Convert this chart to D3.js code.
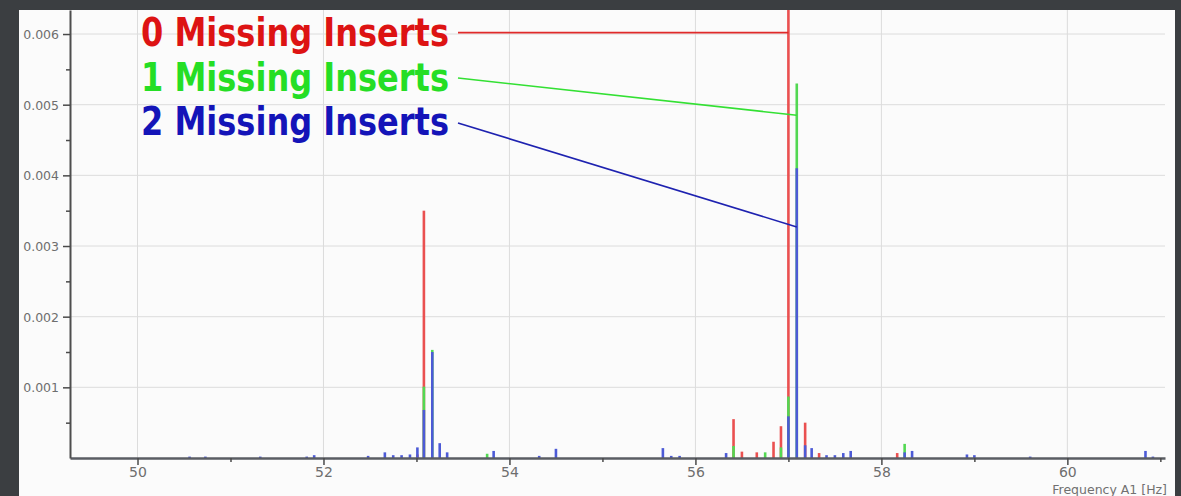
<!DOCTYPE html>
<html>
<head>
<meta charset="utf-8">
<script src="https://cdn.jsdelivr.net/npm/d3@7"></script>
<style>
  html, body { margin: 0; padding: 0; background: #3b3e41; }
  .spectrum__panel { fill: #fbfbfb; }
  .spectrum__grid line { stroke: #dcdcdc; stroke-width: 1; }
  .spectrum__axis path { stroke: #5a5d63; stroke-width: 2.5; }
  .spectrum__axis line { stroke: #4a4a4a; stroke-width: 1.5; }
  .spectrum__axis text { fill: #6e6e6e; font-family: "DejaVu Sans", sans-serif; }
  .spectrum__axis--y path { stroke: #4e4e4e; stroke-width: 2; }
  .spectrum__title { fill: #707070; font-family: "DejaVu Sans", sans-serif; font-size: 12.5px; }
  .spectrum__label { font-family: "Liberation Sans Narrow", "Arial Narrow", "DejaVu Sans Condensed", sans-serif; font-weight: bold; font-size: 39px; }
</style>
</head>
<body>
<div id="chart"></div>
<script>
// values
const freqTicks = [50, 52, 54, 56, 58, 60];
const freqMinorTicks = [51, 53, 55, 57, 59, 61];
const ampTicks = [0.001, 0.002, 0.003, 0.004, 0.005, 0.006];
const ampMinorTicks = [0.0005, 0.0015, 0.0025, 0.0035, 0.0045, 0.0055];

const seriesNames = ['0 Missing Inserts', '1 Missing Inserts', '2 Missing Inserts'];
const seriesColors = ['#ea5050', '#52d852', '#4c5ad6'];
const calloutColors = ['#e02a2a', '#33e033', '#1e22b0'];
const labelColors = ['#dd1313', '#25de25', '#1414b8'];

// 0 missing inserts
const freq0 = [53.01, 53.08, 56.41, 56.50, 56.66, 56.84, 56.92, 57.00, 57.18, 57.33, 58.17];
const amp0 = [0.00005, 0.0035, 0.00055, 0.00009, 0.00008, 0.00023, 0.00045, 0.0068, 0.0005, 0.00007, 0.00007];

// 1 missing insert
const freq1 = [53.08, 53.17, 53.76, 56.41, 56.75, 56.92, 57.00, 57.09, 58.25];
const amp1 = [0.00101, 0.00153, 0.00006, 0.00017, 0.00008, 0.00015, 0.00087, 0.0053, 0.0002];

// 2 missing inserts
const freq2 = [50.56, 50.73, 51.32, 51.82, 51.90, 52.48, 52.66, 52.75, 52.84, 52.93, 53.01, 53.08,
  53.17, 53.25, 53.33, 53.83, 54.32, 54.50, 55.65, 55.74, 55.83, 56.33, 57.00, 57.09, 57.18,
  57.25, 57.41, 57.50, 57.59, 57.67, 58.25, 58.33, 58.92, 59.00, 59.60, 60.84, 60.92];
const amp2 = [0.00002, 0.00002, 0.00002, 0.00002, 0.00004, 0.00003, 0.00008, 0.00004, 0.00004, 0.00005, 0.00015, 0.00068,
  0.0015, 0.00021, 0.00008, 0.0001, 0.00003, 0.00013, 0.00014, 0.00003, 0.00003, 0.00007, 0.00059, 0.0041, 0.00018,
  0.00014, 0.00004, 0.00004, 0.00007, 0.0001, 0.00008, 0.0001, 0.00005, 0.00004, 0.00002, 0.0001, 0.00002];

// where each callout line meets its peak
const calloutFreqs = [57.00, 57.09, 57.09];
const calloutAmps = [0.00602, 0.00485, 0.00327];

class SpectrumChart {
  constructor(element, options) {
    const defaults = {
      width: 1181,
      height: 496,
      margin: {
        top: 10,
        right: 16,
        bottom: 38,
        left: 70,
      },
      xDomain: [49.274, 61.05],
      yDomain: [0, 0.00634],
    };

    this.element = element;
    Object.assign(this, defaults, options);

    this.init();
  }

  dimensions() {
    const { margin, width, height } = this;
    return [
      width - margin.left - margin.right,
      height - margin.top - margin.bottom,
    ];
  }

  init() {
    const { element, width, height, margin } = this;
    const [innerWidth, innerHeight] = this.dimensions();

    this.root = d3.select(element)
      .append('svg')
      .attr('width', width)
      .attr('height', height)
      .style('display', 'block');

    this.root.append('rect')
      .attr('width', width)
      .attr('height', height)
      .attr('fill', '#3b3e41');

    this.root.append('rect')
      .attr('class', 'spectrum__panel')
      .attr('x', 19)
      .attr('y', margin.top)
      .attr('width', width - 19 - 6)
      .attr('height', height - margin.top);

    this.root.append('clipPath')
      .attr('id', 'plot-clip')
      .append('rect')
      .attr('width', innerWidth)
      .attr('height', innerHeight);

    this.svg = this.root.append('g')
      .attr('transform', `translate(${margin.left}, ${margin.top})`);

    this.scaleX = d3.scaleLinear()
      .domain(this.xDomain)
      .range([0, innerWidth]);

    this.scaleY = d3.scaleLinear()
      .domain(this.yDomain)
      .range([innerHeight, 0]);

    this.svg.append('g').attr('class', 'spectrum__grid spectrum__grid--x');
    this.svg.append('g').attr('class', 'spectrum__grid spectrum__grid--y');
    this.svg.append('g').attr('class', 'spectrum__bars').attr('clip-path', 'url(#plot-clip)');
    this.svg.append('g').attr('class', 'spectrum__axis spectrum__axis--x')
      .attr('transform', `translate(0, ${innerHeight})`);
    this.svg.append('g').attr('class', 'spectrum__axis spectrum__axis--xminor')
      .attr('transform', `translate(0, ${innerHeight})`);
    this.svg.append('g').attr('class', 'spectrum__axis spectrum__axis--y');
    this.svg.append('g').attr('class', 'spectrum__axis spectrum__axis--yminor');
    this.svg.append('g').attr('class', 'spectrum__callouts');
  }

  renderGrid() {
    const { svg, scaleX, scaleY } = this;
    const [innerWidth, innerHeight] = this.dimensions();

    svg.select('.spectrum__grid--x')
      .selectAll('line')
      .data(freqTicks)
      .join('line')
      .attr('x1', d => scaleX(d))
      .attr('x2', d => scaleX(d))
      .attr('y1', 0)
      .attr('y2', innerHeight);

    svg.select('.spectrum__grid--y')
      .selectAll('line')
      .data(ampTicks)
      .join('line')
      .attr('x1', 0)
      .attr('x2', innerWidth)
      .attr('y1', d => scaleY(d))
      .attr('y2', d => scaleY(d));
  }

  renderAxis() {
    const { svg, scaleX, scaleY } = this;

    svg.select('.spectrum__axis--x')
      .call(d3.axisBottom(scaleX)
        .tickValues(freqTicks)
        .tickFormat(d3.format('d'))
        .tickSize(7)
        .tickSizeOuter(0)
        .tickPadding(2))
      .call(g => g.selectAll('text').attr('font-size', 14));

    svg.select('.spectrum__axis--xminor')
      .call(d3.axisBottom(scaleX)
        .tickValues(freqMinorTicks)
        .tickFormat('')
        .tickSize(4)
        .tickSizeOuter(0))
      .call(g => g.select('.domain').remove());

    svg.select('.spectrum__axis--y')
      .call(d3.axisLeft(scaleY)
        .tickValues(ampTicks)
        .tickFormat(d3.format('.3f'))
        .tickSize(7)
        .tickSizeOuter(0)
        .tickPadding(4))
      .call(g => g.selectAll('text').attr('font-size', 12.5).attr('dy', '0.35em'));

    svg.select('.spectrum__axis--yminor')
      .call(d3.axisLeft(scaleY)
        .tickValues(ampMinorTicks)
        .tickFormat('')
        .tickSize(4)
        .tickSizeOuter(0))
      .call(g => g.select('.domain').remove());

    const [innerWidth, innerHeight] = this.dimensions();
    svg.append('text')
      .attr('class', 'spectrum__title')
      .attr('x', innerWidth + 2)
      .attr('y', innerHeight + 36)
      .attr('text-anchor', 'end')
      .text('Frequency A1 [Hz]');
  }

  renderBars(series) {
    const { svg, scaleX, scaleY } = this;

    svg.select('.spectrum__bars')
      .selectAll('g')
      .data(series)
      .join('g')
      .attr('stroke', d => d.color)
      .attr('stroke-width', 2.6)
      .selectAll('line')
      .data(d => d.freqs.map((f, i) => [f, d.amps[i]]))
      .join('line')
      .attr('x1', d => scaleX(d[0]))
      .attr('x2', d => scaleX(d[0]))
      .attr('y1', scaleY(0))
      .attr('y2', d => scaleY(d[1]));
  }

  renderCallouts(series) {
    const { svg, scaleX, scaleY, margin } = this;
    // label block sits in the upper left of the plot
    const labelX = 141 - margin.left;
    const baseY = 46 - margin.top;
    const lineGap = 44.5;
    const leaderStartX = 458 - margin.left;

    const callout = svg.select('.spectrum__callouts')
      .selectAll('g')
      .data(series)
      .join('g');

    callout.append('line')
      .attr('x1', leaderStartX)
      .attr('y1', (d, i) => (i === 0 ? scaleY(d.calloutAmp) : baseY + i * lineGap - 13 + i * 0.5))
      .attr('x2', d => scaleX(d.calloutFreq))
      .attr('y2', d => scaleY(d.calloutAmp))
      .attr('stroke', d => d.calloutColor)
      .attr('stroke-width', 1.6);

    callout.append('text')
      .attr('class', 'spectrum__label')
      .attr('x', labelX)
      .attr('y', (d, i) => baseY + i * lineGap)
      .attr('textLength', 308)
      .attr('lengthAdjust', 'spacingAndGlyphs')
      .attr('fill', d => d.labelColor)
      .text(d => d.name);
  }

  render(series) {
    this.renderGrid();
    this.renderBars(series);
    this.renderAxis();
    this.renderCallouts(series);
  }
}

const series = [
  { name: seriesNames[0], color: seriesColors[0], freqs: freq0, amps: amp0 },
  { name: seriesNames[1], color: seriesColors[1], freqs: freq1, amps: amp1 },
  { name: seriesNames[2], color: seriesColors[2], freqs: freq2, amps: amp2 },
].map((s, i) => Object.assign(s, {
  calloutColor: calloutColors[i],
  labelColor: labelColors[i],
  calloutFreq: calloutFreqs[i],
  calloutAmp: calloutAmps[i],
}));

const chart = new SpectrumChart(document.getElementById('chart'));
chart.render(series);
</script>
</body>
</html>
